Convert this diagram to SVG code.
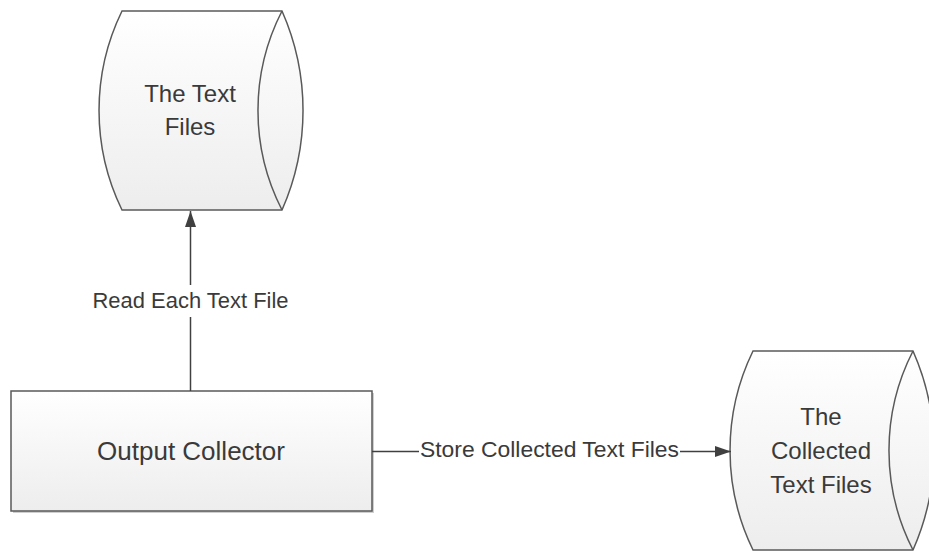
<svg xmlns="http://www.w3.org/2000/svg" width="929" height="551" viewBox="0 0 929 551">
  <style>
    .shape { stroke: #595959; stroke-width: 1.5; fill: url(#g); }
    .inner { stroke: #595959; stroke-width: 1.5; fill: none; }
    .conn { stroke: #404040; stroke-width: 1.5; fill: none; }
    .node-text { font-family: "Liberation Sans", Arial, sans-serif; font-size: 24px; fill: #3a3a3a; text-anchor: middle; }
    .label { font-family: "Liberation Sans", Arial, sans-serif; font-size: 22px; fill: #3a3a3a; text-anchor: middle; }
  </style>
  <defs>
    <linearGradient id="g" x1="0" y1="0" x2="0" y2="1">
      <stop offset="0" stop-color="#ffffff"/>
      <stop offset="1" stop-color="#ededed"/>
    </linearGradient>
    <marker id="arrow" markerUnits="userSpaceOnUse" markerWidth="17" markerHeight="12" refX="16" refY="5.5" orient="auto">
      <path d="M0,0 L16,5.5 L0,11 z" fill="#404040"/>
    </marker>
  </defs>

  <rect width="929" height="551" fill="#ffffff"/>

  <g id="text-files">
    <path class="shape" d="M122,11 L282,11 A246,246 0 0 1 282,210 L122,210 A227,227 0 0 1 122,11 Z"/>
    <path class="inner" d="M282,11 A218,218 0 0 0 282,210"/>
    <text class="node-text" x="190" y="102">The Text</text>
    <text class="node-text" x="190" y="135">Files</text>
  </g>

  <g id="output-collector">
    <rect x="13" y="393" width="361" height="120" fill="#cfcfcf"/>
    <rect class="shape" x="11" y="391" width="361" height="120"/>
    <text class="node-text" x="191" y="460" style="font-size:26px">Output Collector</text>
  </g>

  <g id="collected-text-files">
    <path class="shape" d="M753,351 L913,351 A246,246 0 0 1 913,550 L753,550 A227,227 0 0 1 753,351 Z"/>
    <path class="inner" d="M913,351 A218,218 0 0 0 913,550"/>
    <text class="node-text" x="821" y="425">The</text>
    <text class="node-text" x="821" y="459">Collected</text>
    <text class="node-text" x="821" y="493">Text Files</text>
  </g>

  <g id="connectors">
    <line class="conn" x1="190.5" y1="391" x2="190.5" y2="317"/>
    <line class="conn" x1="190.5" y1="285" x2="190.5" y2="211" marker-end="url(#arrow)"/>
    <text class="label" x="190.5" y="308" textLength="196" lengthAdjust="spacingAndGlyphs">Read Each Text File</text>
    <line class="conn" x1="372" y1="451.5" x2="419" y2="451.5"/>
    <line class="conn" x1="680" y1="451.5" x2="731" y2="451.5" marker-end="url(#arrow)"/>
    <text class="label" x="549.5" y="457" textLength="259" lengthAdjust="spacingAndGlyphs">Store Collected Text Files</text>
  </g>
</svg>
